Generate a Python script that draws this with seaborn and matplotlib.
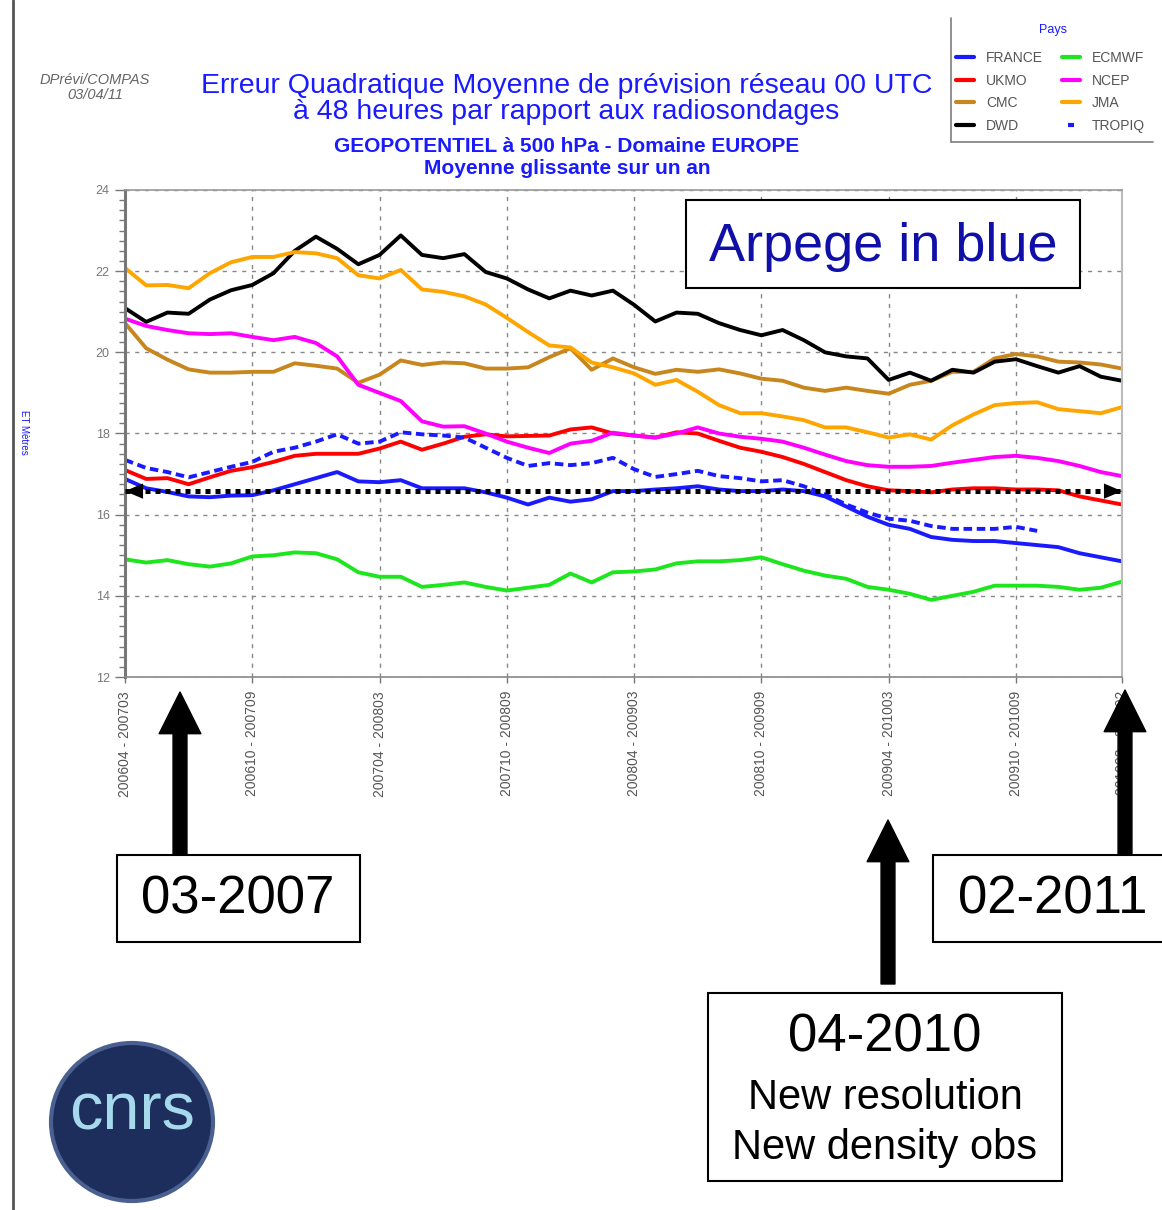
import numpy as np
import pandas as pd
import matplotlib
matplotlib.use("Agg")
import matplotlib.pyplot as plt
import seaborn as sns
from matplotlib.patches import FancyArrowPatch, Rectangle, Ellipse
from matplotlib.lines import Line2D

# ---------------- data ----------------
months = list(range(48))  # 48 monthly rolling-year windows: 200604-200703 ... 201003-201102
tick_positions = [0, 6, 12, 18, 24, 30, 36, 42, 47]
tick_labels = ["200604 - 200703", "200610 - 200709", "200704 - 200803",
               "200710 - 200809", "200804 - 200903", "200810 - 200909",
               "200904 - 201003", "200910 - 201009", "201003 - 201102"]

france = [16.88, 16.65, 16.56, 16.45, 16.43, 16.47, 16.48, 16.6, 16.75, 16.9,
          17.05, 16.82, 16.8, 16.85, 16.65, 16.65, 16.65, 16.55, 16.42, 16.25,
          16.42, 16.32, 16.38, 16.58, 16.58, 16.62, 16.65, 16.7, 16.62, 16.58,
          16.58, 16.62, 16.58, 16.45, 16.2, 15.95, 15.75, 15.65, 15.45, 15.38,
          15.35, 15.35, 15.3, 15.25, 15.2, 15.05, 14.95, 14.85]
ukmo = [17.1, 16.88, 16.9, 16.75, 16.92, 17.08, 17.17, 17.3, 17.45, 17.5,
        17.5, 17.5, 17.63, 17.8, 17.6, 17.75, 17.92, 17.98, 17.93, 17.94,
        17.95, 18.1, 18.15, 18.0, 17.95, 17.9, 18.03, 18.0, 17.82, 17.65,
        17.55, 17.42, 17.25, 17.05, 16.85, 16.7, 16.6, 16.58, 16.55, 16.62,
        16.65, 16.65, 16.62, 16.62, 16.6, 16.45, 16.35, 16.25]
cmc = [20.72, 20.1, 19.82, 19.58, 19.5, 19.5, 19.52, 19.52, 19.73, 19.67,
       19.6, 19.25, 19.45, 19.8, 19.69, 19.75, 19.73, 19.6, 19.6, 19.63,
       19.88, 20.1, 19.57, 19.85, 19.63, 19.47, 19.57, 19.52, 19.58, 19.48,
       19.35, 19.3, 19.13, 19.05, 19.13, 19.05, 18.98, 19.2, 19.3, 19.52,
       19.52, 19.85, 19.96, 19.9, 19.77, 19.75, 19.7, 19.6]
dwd = [21.09, 20.75, 20.98, 20.95, 21.3, 21.53, 21.66, 21.95, 22.5, 22.85,
       22.55, 22.17, 22.4, 22.88, 22.4, 22.32, 22.42, 21.98, 21.82, 21.55,
       21.33, 21.52, 21.4, 21.52, 21.17, 20.76, 20.98, 20.95, 20.72, 20.55,
       20.42, 20.55, 20.3, 20.0, 19.9, 19.85, 19.32, 19.5, 19.3, 19.57,
       19.5, 19.77, 19.83, 19.66, 19.5, 19.66, 19.4, 19.3]
ecmwf = [14.9, 14.82, 14.88, 14.78, 14.72, 14.8, 14.97, 15.0, 15.07, 15.05,
         14.9, 14.58, 14.47, 14.47, 14.22, 14.27, 14.33, 14.22, 14.13, 14.2,
         14.27, 14.55, 14.33, 14.58, 14.6, 14.65, 14.8, 14.85, 14.85, 14.88,
         14.95, 14.78, 14.62, 14.5, 14.42, 14.22, 14.15, 14.05, 13.9, 14.0,
         14.1, 14.25, 14.25, 14.25, 14.22, 14.15, 14.2, 14.35]
ncep = [20.83, 20.65, 20.55, 20.47, 20.45, 20.47, 20.38, 20.3, 20.38, 20.23,
        19.9, 19.2, 19.0, 18.8, 18.3, 18.17, 18.18, 18.0, 17.8, 17.65,
        17.52, 17.75, 17.82, 18.02, 17.95, 17.9, 18.0, 18.15, 18.0, 17.92,
        17.87, 17.8, 17.65, 17.48, 17.32, 17.22, 17.18, 17.18, 17.2, 17.28,
        17.35, 17.42, 17.45, 17.4, 17.32, 17.2, 17.05, 16.95]
jma = [22.08, 21.65, 21.66, 21.58, 21.95, 22.22, 22.35, 22.35, 22.47, 22.44,
       22.32, 21.9, 21.82, 22.03, 21.55, 21.49, 21.38, 21.18, 20.85, 20.5,
       20.17, 20.12, 19.75, 19.63, 19.48, 19.2, 19.32, 19.03, 18.7, 18.5,
       18.5, 18.42, 18.33, 18.15, 18.15, 18.03, 17.9, 17.98, 17.85, 18.2,
       18.47, 18.7, 18.75, 18.77, 18.6, 18.55, 18.5, 18.65]
tropiq = [17.35, 17.15, 17.05, 16.92, 17.05, 17.18, 17.3, 17.55, 17.65, 17.8,
          17.98, 17.75, 17.8, 18.03, 17.98, 17.95, 17.9, 17.65, 17.4, 17.2,
          17.27, 17.22, 17.27, 17.4, 17.12, 16.93, 17.0, 17.08, 16.95, 16.9,
          16.82, 16.85, 16.7, 16.5, 16.25, 16.05, 15.9, 15.85, 15.72, 15.65,
          15.65, 15.65, 15.7, 15.6, np.nan, np.nan, np.nan, np.nan]
reference_level = 16.58  # black dotted line (France level 03-2007)

series_names = ["FRANCE", "UKMO", "CMC", "DWD", "ECMWF", "NCEP", "JMA", "TROPIQ"]
series_values = [france, ukmo, cmc, dwd, ecmwf, ncep, jma, tropiq]
colors = {"FRANCE": "#1a1aff", "UKMO": "#ff0000", "CMC": "#c8861e", "DWD": "#000000",
          "ECMWF": "#1ee61e", "NCEP": "#ff00ff", "JMA": "#ffa500", "TROPIQ": "#1a1aff"}

df = pd.DataFrame([{"Pays": n, "mois": m, "eqm": v}
                   for n, vals in zip(series_names, series_values)
                   for m, v in zip(months, vals)])

# ---------------- figure ----------------
sns.set_style("white")
plt.rcParams["font.family"] = ["Liberation Sans", "DejaVu Sans"]

W, H = 1162, 1210
fig = plt.figure(figsize=(W / 100, H / 100), dpi=100)


def fx(x):
    return x / W


def fy(y):
    return 1 - y / H


ax = fig.add_axes([fx(125), fy(677), (1122 - 125) / W, (677 - 190) / H])

dashes = {n: "" for n in series_names}
dashes["TROPIQ"] = (2.2, 1.2)
sns.lineplot(data=df, x="mois", y="eqm", hue="Pays", style="Pays",
             hue_order=series_names, style_order=series_names,
             palette=colors, dashes=dashes, linewidth=2.8,
             estimator=None, errorbar=None, legend=False, ax=ax)

# reference dotted line with arrows
ax.plot([months[0], months[-1]], [reference_level, reference_level],
        ls=(0, (1, 1)), lw=3.6, color="black", solid_capstyle="butt",
        dash_capstyle="butt", zorder=5)
for xpt, off in [(months[0], 16), (months[-1], -16)]:
    ax.annotate("", xy=(xpt, reference_level), xytext=(off, 0),
                textcoords="offset points",
                arrowprops=dict(arrowstyle="-|>,head_length=1.3,head_width=0.55",
                                mutation_scale=10, color="black", lw=0,
                                shrinkA=0, shrinkB=0), zorder=6)

ax.set_xlim(months[0], months[-1])
ax.set_ylim(12, 24)
ax.set_xticks(tick_positions)
ax.set_xticklabels(tick_labels, rotation=90, fontsize=10, color="#555555",
                   va="top")
ax.set_yticks(np.arange(12, 25, 2))
ax.set_yticklabels([str(v) for v in range(12, 25, 2)], fontsize=9, color="#777777")
ax.set_yticks(np.arange(12, 24.01, 0.25), minor=True)
ax.tick_params(axis="y", which="major", direction="out", length=7, width=1,
               color="#777777", pad=4, left=True)
ax.tick_params(axis="y", which="minor", direction="out", length=4, width=1,
               color="#777777", left=True)
ax.tick_params(axis="x", which="major", direction="out", length=4, width=1,
               color="#777777", pad=6, bottom=True)
ax.set_xlabel("")
ax.set_ylabel("")
ax.grid(True, which="major", linestyle=(0, (3, 4)), color="#888888", lw=1)
for side, c, lw in [("left", "#777777", 2.2), ("bottom", "#888888", 1.2),
                    ("top", "#999999", 1.2), ("right", "#bbbbbb", 1.5)]:
    ax.spines[side].set_visible(True)
    ax.spines[side].set_color(c)
    ax.spines[side].set_linewidth(lw)

# ---------------- titles ----------------
blue = "#1a1aff"
fig.text(fx(567), fy(86), "Erreur Quadratique Moyenne de prévision réseau 00 UTC",
         ha="center", va="center", fontsize=20.5, color=blue)
fig.text(fx(566), fy(112), "à 48 heures par rapport aux radiosondages",
         ha="center", va="center", fontsize=20.5, color=blue)
fig.text(fx(567), fy(146), "GEOPOTENTIEL à 500 hPa - Domaine EUROPE",
         ha="center", va="center", fontsize=15, color=blue, fontweight="bold")
fig.text(fx(567), fy(168), "Moyenne glissante sur un an",
         ha="center", va="center", fontsize=15, color=blue, fontweight="bold")
fig.text(fx(95), fy(80), "DPrévi/COMPAS", ha="center", va="center",
         fontsize=10.5, color="#666666", style="italic")
fig.text(fx(95), fy(95), "03/04/11", ha="center", va="center",
         fontsize=10.5, color="#666666", style="italic")
fig.text(fx(24), fy(432), "ET Mètres", ha="center", va="center", rotation=270,
         fontsize=7, color=blue)

# page border line at left
fig.add_artist(Line2D([fx(13), fx(13)], [0, 1], transform=fig.transFigure,
                      color="#555555", lw=2))

# ---------------- legend ----------------
handles = []
for n in series_names:
    if n == "TROPIQ":
        handles.append(Line2D([], [], color=colors[n], lw=0, marker="_",
                              markersize=5, markeredgewidth=3))
    else:
        handles.append(Line2D([], [], color=colors[n], lw=3))
leg = fig.legend(handles, series_names, ncol=2,
                 loc="upper left", bbox_to_anchor=(fx(956), fy(51)),
                 bbox_transform=fig.transFigure, frameon=False,
                 fontsize=10, handlelength=1.3,
                 handletextpad=0.85, columnspacing=1.4, labelspacing=0.62,
                 borderaxespad=0, borderpad=0.0)
for t in leg.get_texts():
    t.set_color("#555555")
fig.text(fx(1053), fy(30), "Pays", ha="center", va="center", fontsize=9,
         color=blue)
fig.add_artist(Line2D([fx(951), fx(951)], [fy(18), fy(142)],
                      transform=fig.transFigure, color="#888888", lw=1.3))
fig.add_artist(Line2D([fx(951), fx(1153)], [fy(142), fy(142)],
                      transform=fig.transFigure, color="#888888", lw=1.3))

# ---------------- overlay boxes and arrows ----------------
def box(x0, y0, x1, y1):
    fig.add_artist(Rectangle((fx(x0), fy(y1)), (x1 - x0) / W, (y1 - y0) / H,
                             transform=fig.transFigure, facecolor="white",
                             edgecolor="black", lw=1.5, zorder=10))


def big_arrow(x, y_tail, y_tip):
    fig.add_artist(FancyArrowPatch(
        posA=(fx(x), fy(y_tail)), posB=(fx(x), fy(y_tip)),
        transform=fig.transFigure,
        arrowstyle="simple,head_length=30,head_width=30,tail_width=10",
        mutation_scale=1, color="black", shrinkA=0, shrinkB=0, zorder=9))


box(686, 200, 1080, 288)
fig.text(fx(883), fy(247), "Arpege in blue", ha="center", va="center",
         fontsize=39, color="#1010a8", zorder=11)

big_arrow(180, 856, 692)
box(117, 855, 360, 942)
fig.text(fx(238), fy(900), "03-2007", ha="center", va="center",
         fontsize=38, color="black", zorder=11)

big_arrow(1125, 856, 690)
box(933, 855, 1180, 942)
fig.text(fx(1053), fy(900), "02-2011", ha="center", va="center",
         fontsize=38, color="black", zorder=11)

big_arrow(888, 984, 820)
box(708, 993, 1062, 1181)
fig.text(fx(885), fy(1038), "04-2010", ha="center", va="center",
         fontsize=38, color="black", zorder=11)
fig.text(fx(885), fy(1098), "New resolution", ha="center", va="center",
         fontsize=30, color="black", zorder=11)
fig.text(fx(885), fy(1148), "New density obs", ha="center", va="center",
         fontsize=30, color="black", zorder=11)

# CNRS logo
fig.add_artist(Ellipse((fx(132), fy(1122)), 162 / W, 158 / H,
                       transform=fig.transFigure, facecolor="#1d2d5c",
                       edgecolor="#4a6090", lw=3, zorder=10))
fig.text(fx(132), fy(1112), "cnrs", ha="center", va="center", fontsize=48,
         color="#a6d9ec", zorder=11)

fig.savefig("out.png", dpi=100)
